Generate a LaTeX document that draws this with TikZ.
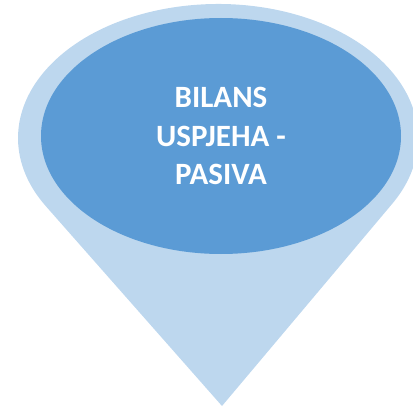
\documentclass[tikz,border=0pt]{standalone}
\usepackage{fontspec}
\setmainfont{Carlito}
\usetikzlibrary{shapes.geometric, calc}
\definecolor{droplight}{HTML}{BDD7EE}
\definecolor{dropdark}{HTML}{5B9BD5}
\tikzset{drop body/.style={fill=droplight},
         drop head/.style={ellipse, fill=dropdark, minimum width=360pt, minimum height=236pt, inner sep=0pt,
                           text=white, align=center, font=\bfseries\fontsize{31}{38.5}\selectfont},
        }

\begin{document}
\begin{tikzpicture}[x=1pt,y=1pt]
        \useasboundingbox (0,0) rectangle (413,408);
        \clip (0,0) rectangle (413,408);
        \coordinate (c) at (218,270);
        \coordinate (tip) at (222,2);

        \fill[drop body](tip)--($(c)+(330.6:200 and 134)$) arc[start angle=330.6, end angle=570.6, x radius=200, y radius=134]--cycle;
        \node[drop head](head)at(221,272){BILANS\\USPJEHA -\\PASIVA};
\end{tikzpicture}
\end{document}
